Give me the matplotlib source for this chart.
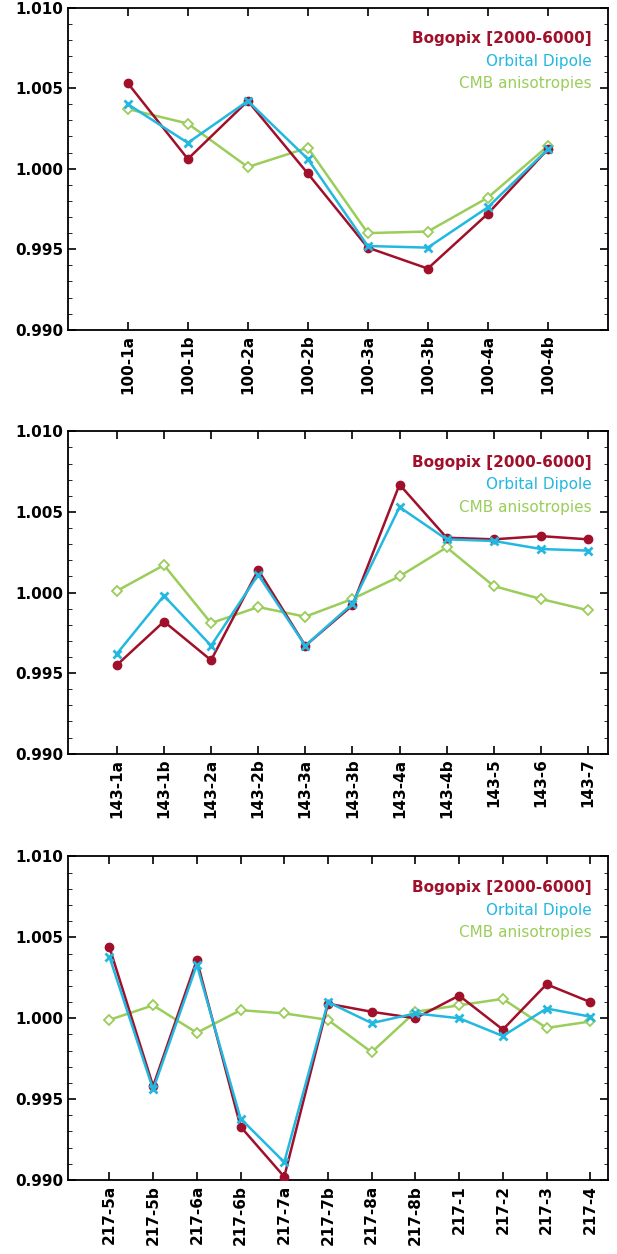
import numpy as np
import matplotlib
matplotlib.use("Agg")
import matplotlib.pyplot as plt
from matplotlib.ticker import MultipleLocator

labels1 = ["100-1a", "100-1b", "100-2a", "100-2b", "100-3a", "100-3b", "100-4a", "100-4b"]
bogo1 = [1.0053, 1.0006, 1.0042, 0.9997, 0.9951, 0.9938, 0.9972, 1.0012]
orb1 = [1.0040, 1.0016, 1.0042, 1.0006, 0.9952, 0.9951, 0.9976, 1.0012]
cmb1 = [1.0037, 1.0028, 1.0001, 1.0013, 0.9960, 0.9961, 0.9982, 1.0014]

labels2 = ["143-1a", "143-1b", "143-2a", "143-2b", "143-3a", "143-3b", "143-4a", "143-4b", "143-5", "143-6", "143-7"]
bogo2 = [0.9955, 0.9982, 0.9958, 1.0014, 0.9967, 0.9992, 1.0067, 1.0034, 1.0033, 1.0035, 1.0033]
orb2 = [0.9962, 0.9998, 0.9967, 1.0011, 0.9967, 0.9993, 1.0053, 1.0033, 1.0032, 1.0027, 1.0026]
cmb2 = [1.0001, 1.0017, 0.9981, 0.9991, 0.9985, 0.9996, 1.0010, 1.0028, 1.0004, 0.9996, 0.9989]

labels3 = ["217-5a", "217-5b", "217-6a", "217-6b", "217-7a", "217-7b", "217-8a", "217-8b", "217-1", "217-2", "217-3", "217-4"]
bogo3 = [1.0044, 0.9958, 1.0036, 0.9933, 0.9902, 1.0009, 1.0004, 1.0000, 1.0014, 0.9993, 1.0021, 1.0010]
orb3 = [1.0038, 0.9956, 1.0033, 0.9938, 0.9911, 1.0010, 0.9997, 1.0003, 1.0000, 0.9989, 1.0006, 1.0001]
cmb3 = [0.9999, 1.0008, 0.9991, 1.0005, 1.0003, 0.9999, 0.9979, 1.0004, 1.0008, 1.0012, 0.9994, 0.9998]

RED = "#a0102a"
BLUE = "#22b8e0"
GREEN = "#9acd5a"

fig = plt.figure(figsize=(6.17, 12.54), dpi=100)
boxes = [(0.110, 0.737, 0.875, 0.257), (0.110, 0.399, 0.875, 0.257), (0.110, 0.059, 0.875, 0.258)]
panels = [(labels1, bogo1, orb1, cmb1), (labels2, bogo2, orb2, cmb2), (labels3, bogo3, orb3, cmb3)]
xlims = [(-1.0, 8.0), (-1.04, 10.42), (-0.95, 11.4)]

for box, (labs, b, o, c), xl in zip(boxes, panels, xlims):
    ax = fig.add_axes(box)
    x = np.arange(len(labs))
    ax.plot(x, c, color=GREEN, lw=1.8, marker="D", ms=5, mfc="white", mec=GREEN, mew=1.3, zorder=2)
    ax.plot(x, b, color=RED, lw=1.8, marker="o", ms=6, zorder=3)
    ax.plot(x, o, color=BLUE, lw=1.8, marker="x", ms=6, mew=2, zorder=4)
    ax.set_ylim(0.990, 1.010)
    ax.set_xlim(*xl)
    ax.yaxis.set_major_locator(MultipleLocator(0.005))
    ax.yaxis.set_minor_locator(MultipleLocator(0.001))
    ax.set_yticklabels([f"{v:.3f}" for v in ax.get_yticks()], fontweight="bold", fontsize=11)
    ax.set_xticks(x)
    ax.set_xticklabels(labs, rotation=90, fontweight="bold", fontsize=11)
    ax.tick_params(direction="in", length=6, width=1.2, top=True, right=True)
    ax.tick_params(which="minor", direction="in", length=3, right=True)
    for s in ax.spines.values():
        s.set_linewidth(1.3)
    ax.text(0.97, 0.89, "Bogopix [2000-6000]", color=RED, fontweight="bold", fontsize=11,
            ha="right", transform=ax.transAxes)
    ax.text(0.97, 0.82, "Orbital Dipole", color=BLUE, fontsize=11, ha="right", transform=ax.transAxes)
    ax.text(0.97, 0.75, "CMB anisotropies", color=GREEN, fontsize=11, ha="right", transform=ax.transAxes)

fig.savefig("out.png", dpi=100)
